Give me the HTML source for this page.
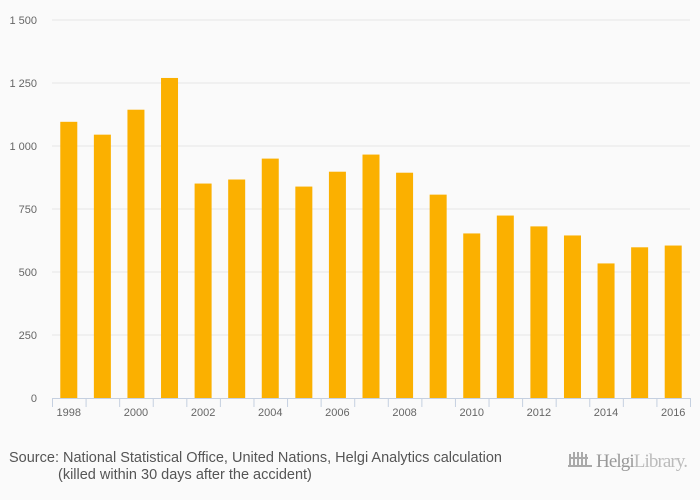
<!DOCTYPE html>
<html><head><meta charset="utf-8"><style>
body{margin:0;background:#fafafa;font-family:"Liberation Sans",sans-serif}
</style></head><body>
<svg id="c" width="700" height="500" style="display:block;background:#fafafa">
<g id="grid"></g><g id="bars"></g><g id="axis"></g>
<text x="9" y="462" font-size="14.5" fill="#555">Source: National Statistical Office, United Nations, Helgi Analytics calculation</text>
<text x="58" y="479" font-size="14.5" fill="#555">(killed within 30 days after the accident)</text>
<g>
<text x="596" y="467" font-size="19" fill="#999" font-family="Liberation Serif,serif" textLength="92">Helgi<tspan fill="#bbb">Library.</tspan></text>
<path d="M568 466 h24 M570 466 v-12 M574 466 v-14 M578 466 v-14 M582 466 v-14 M586 466 v-12 M570 458 h18" stroke="#aaa" stroke-width="2" fill="none"/>
</g>
</svg>
<script>
const years=[1998,1999,2000,2001,2002,2003,2004,2005,2006,2007,2008,2009,2010,2011,2012,2013,2014,2015,2016];
const values=[1096,1045,1144,1270,851,867,950,839,898,966,894,807,653,724,681,645,534,598,605];
const yTicks=[0,250,500,750,1000,1250,1500];
const yLabels=["0","250","500","750","1 000","1 250","1 500"];
const NS="http://www.w3.org/2000/svg";
const L=52,R=690,T=20,B=398;
const y=v=>B-(v/1500)*(B-T);
const bw=(R-L)/years.length;
const x=i=>L+i*bw;
function mk(t,a,p){const e=document.createElementNS(NS,t);for(const k in a)e.setAttribute(k,a[k]);p.appendChild(e);return e;}
const g=document.getElementById('grid'),b=document.getElementById('bars'),ax=document.getElementById('axis');
yTicks.forEach((v,i)=>{
 if(v>0){const l=mk('line',{x1:L,x2:R,y1:y(v),y2:y(v),stroke:'#e6e6e6','stroke-width':1},g);
 
 }
 const t=mk('text',{x:37,y:y(v)+4,'font-size':11,fill:'#666','text-anchor':'end'},ax);t.textContent=yLabels[i];
 
 
});
values.forEach((v,i)=>{
 const r=mk('rect',{x:x(i)+bw/2-8.5,y:y(v),width:17,height:B-y(v),fill:'#fbb000'},b);
 
 
});
const al=mk('line',{x1:L,x2:R,y1:B+0.5,y2:B+0.5,stroke:'#c5d0e0'},ax);


for(let i=0;i<=years.length;i++){mk('line',{x1:x(i)+0.5,x2:x(i)+0.5,y1:B,y2:B+9,stroke:'#c5d0e0'},ax);}
years.forEach((yr,i)=>{if(i%2===0){const t=mk('text',{x:x(i)+bw/2,y:B+18,'font-size':11,fill:'#666','text-anchor':'middle'},ax);t.textContent=yr;
 
 }});
</script>
</body></html>
